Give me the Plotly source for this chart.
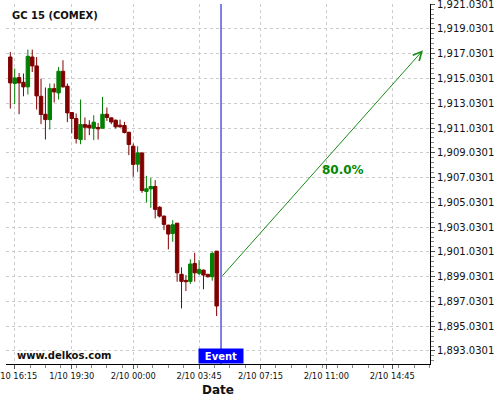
import plotly.graph_objects as go

# ---- data ----
candle_idx = list(range(48))
opens = [1916.76, 1914.62, 1915.10, 1914.72, 1914.35, 1916.76, 1916.04, 1913.59, 1912.14, 1911.71,
         1914.21, 1913.86, 1915.61, 1914.40, 1912.28, 1911.80, 1910.10, 1911.31, 1911.26, 1911.01,
         1911.07, 1911.01, 1912.14, 1911.85, 1911.66, 1911.26, 1911.23, 1910.69, 1909.56, 1908.11,
         1909.02, 1905.91, 1906.12, 1906.31, 1904.64, 1903.92, 1903.19, 1902.52, 1903.35, 1899.22,
         1898.73, 1898.65, 1900.10, 1899.30, 1899.56, 1899.22, 1899.02, 1901.09]
highs = [1917.17, 1915.83, 1915.47, 1915.43, 1917.36, 1917.36, 1916.76, 1915.02, 1914.30, 1914.62,
         1914.62, 1915.96, 1916.50, 1914.62, 1912.30, 1912.20, 1913.33, 1911.88, 1911.66, 1912.06,
         1911.44, 1913.54, 1912.68, 1911.87, 1911.71, 1911.71, 1911.52, 1910.70, 1909.78, 1909.56,
         1909.03, 1907.17, 1907.01, 1906.82, 1904.70, 1903.95, 1903.22, 1903.59, 1903.36, 1899.78,
         1899.16, 1900.43, 1900.96, 1900.37, 1899.60, 1899.23, 1901.04, 1901.10]
lows = [1912.60, 1912.95, 1912.14, 1913.59, 1913.73, 1915.55, 1912.52, 1911.34, 1910.10, 1910.91,
        1913.09, 1913.33, 1914.30, 1911.50, 1910.59, 1909.78, 1909.72, 1910.05, 1910.45, 1910.05,
        1910.10, 1911.00, 1911.60, 1911.34, 1910.99, 1911.07, 1910.59, 1908.84, 1907.09, 1907.49,
        1905.80, 1905.02, 1904.59, 1903.73, 1903.81, 1902.79, 1901.23, 1901.84, 1898.62, 1896.47,
        1897.87, 1898.43, 1898.62, 1899.16, 1898.01, 1898.97, 1898.70, 1895.85]
closes = [1914.67, 1915.07, 1914.67, 1914.35, 1916.82, 1916.04, 1913.62, 1912.12, 1911.71, 1914.21,
          1913.94, 1915.61, 1914.35, 1912.25, 1911.80, 1910.18, 1911.31, 1911.09, 1911.04, 1911.50,
          1910.96, 1912.14, 1911.88, 1911.52, 1911.12, 1911.12, 1910.67, 1909.70, 1908.09, 1909.02,
          1905.99, 1906.12, 1906.31, 1904.46, 1903.92, 1903.25, 1902.47, 1903.22, 1899.34, 1898.65,
          1898.62, 1900.05, 1899.34, 1899.62, 1899.16, 1899.02, 1900.91, 1896.66]

x_tick_pos = [1, 14, 28, 43, 57, 72, 87]
x_tick_labels = ["1/10 16:15", "1/10 19:30", "2/10 00:00", "2/10 03:45",
                 "2/10 07:15", "2/10 11:00", "2/10 14:45"]
y_tick_vals = [1893.0301, 1895.0301, 1897.0301, 1899.0301, 1901.0301, 1903.0301, 1905.0301,
               1907.0301, 1909.0301, 1911.0301, 1913.0301, 1915.0301, 1917.0301, 1919.0301,
               1921.0301]
y_tick_labels = [f"{v:,.4f}" for v in y_tick_vals]

event_x = 48
forecast_x = [48, 94]
forecast_y = [1898.98, 1917.31]
forecast_label = "80.0%"
forecast_label_x = 75.7
forecast_label_y = 1907.61

title_text = "GC 15 (COMEX)"
watermark = "www.delkos.com"

UP = "#008000"
DOWN = "#800000"

# ---- figure ----
fig = go.Figure()

# wicks (high-low lines), one trace per colour
for want_up, col in ((True, UP), (False, DOWN)):
    wx, wy = [], []
    for i, o, h, l, c in zip(candle_idx, opens, highs, lows, closes):
        if (c >= o) == want_up:
            wx += [i, i, None]
            wy += [l, h, None]
    fig.add_trace(go.Scatter(x=wx, y=wy, mode="lines", line=dict(color=col, width=1),
                             hoverinfo="skip", showlegend=False))

# bodies (open-close) as floating bars
body_base = [min(o, c) for o, c in zip(opens, closes)]
body_len = [max(abs(c - o), 0.06) for o, c in zip(opens, closes)]
body_col = [UP if c >= o else DOWN for o, c in zip(opens, closes)]
fig.add_trace(go.Bar(x=candle_idx, y=body_len, base=body_base, width=0.78,
                     marker=dict(color=body_col, line=dict(color=body_col, width=1)),
                     hoverinfo="skip", showlegend=False))

fig.add_shape(type="line", xref="x", yref="paper", x0=event_x, x1=event_x, y0=0, y1=1,
              line=dict(color="#0000d0", width=1))

fig.add_annotation(x=forecast_x[1], y=forecast_y[1], ax=forecast_x[0], ay=forecast_y[0],
                   xref="x", yref="y", axref="x", ayref="y", text="", showarrow=True,
                   arrowhead=5, arrowsize=1.7, arrowwidth=1, arrowcolor="#1a8c1a", standoff=0)

fig.add_annotation(x=forecast_label_x, y=forecast_label_y, xref="x", yref="y",
                   text=f"<b>{forecast_label}</b>", showarrow=False,
                   font=dict(family="DejaVu Sans", size=12, color="#008800"))

fig.add_annotation(x=event_x, y=0, xref="x", yref="paper", xanchor="center", yanchor="bottom",
                   text="<b>Event</b>", showarrow=False, bgcolor="#0000ff", width=44, height=14,
                   borderpad=0, font=dict(family="DejaVu Sans", size=10, color="white"))

fig.add_annotation(x=0.0094, y=0.969, xref="paper", yref="paper", xanchor="left", yanchor="middle",
                   text=f"<b>{title_text}</b>", showarrow=False,
                   font=dict(family="DejaVu Sans", size=10, color="#111111"))

fig.add_annotation(x=0.021, y=0.024, xref="paper", yref="paper", xanchor="left", yanchor="middle",
                   text=f"<b>{watermark}</b>", showarrow=False,
                   font=dict(family="DejaVu Sans", size=10, color="#111111"))

grid = dict(showgrid=True, gridcolor="#cccccc", gridwidth=1, griddash="3px,3px")

fig.update_layout(
    width=500, height=400,
    margin=dict(l=6, r=70, t=4, b=36),
    paper_bgcolor="white", plot_bgcolor="white",
    font=dict(family="DejaVu Sans", color="#111111"),
    barmode="overlay",
    xaxis=dict(
        range=[-0.98, 95.6], automargin=False,
        tickmode="array", tickvals=x_tick_pos, ticktext=x_tick_labels,
        tickfont=dict(size=8.3, color="#111111"), ticklabeloverflow="allow",
        ticks="outside", ticklen=4, tickcolor="#555555",
        showline=True, linecolor="#000000", linewidth=1,
        zeroline=False,
        minor=dict(ticks="outside", ticklen=3, tick0=1, dtick=3.5, tickcolor="#888888", showgrid=False),
        title=dict(text="<b>Date</b>", font=dict(size=12, color="#111111"), standoff=5),
        **grid,
    ),
    yaxis=dict(
        range=[1891.98, 1921.04], side="right", automargin=False,
        tickmode="array", tickvals=y_tick_vals, ticktext=y_tick_labels,
        tickfont=dict(size=10, color="#111111"), ticklabeloverflow="allow",
        ticks="outside", ticklen=4, tickcolor="#555555",
        showline=True, linecolor="#000000", linewidth=1,
        zeroline=False,
        minor=dict(ticks="outside", ticklen=3, tick0=1893.0301, dtick=0.4, tickcolor="#888888", showgrid=False),
        **grid,
    ),
)

fig.write_html("out.html", config={"displayModeBar": False, "staticPlot": True},
               post_script="document.body.style.margin='0px';")
